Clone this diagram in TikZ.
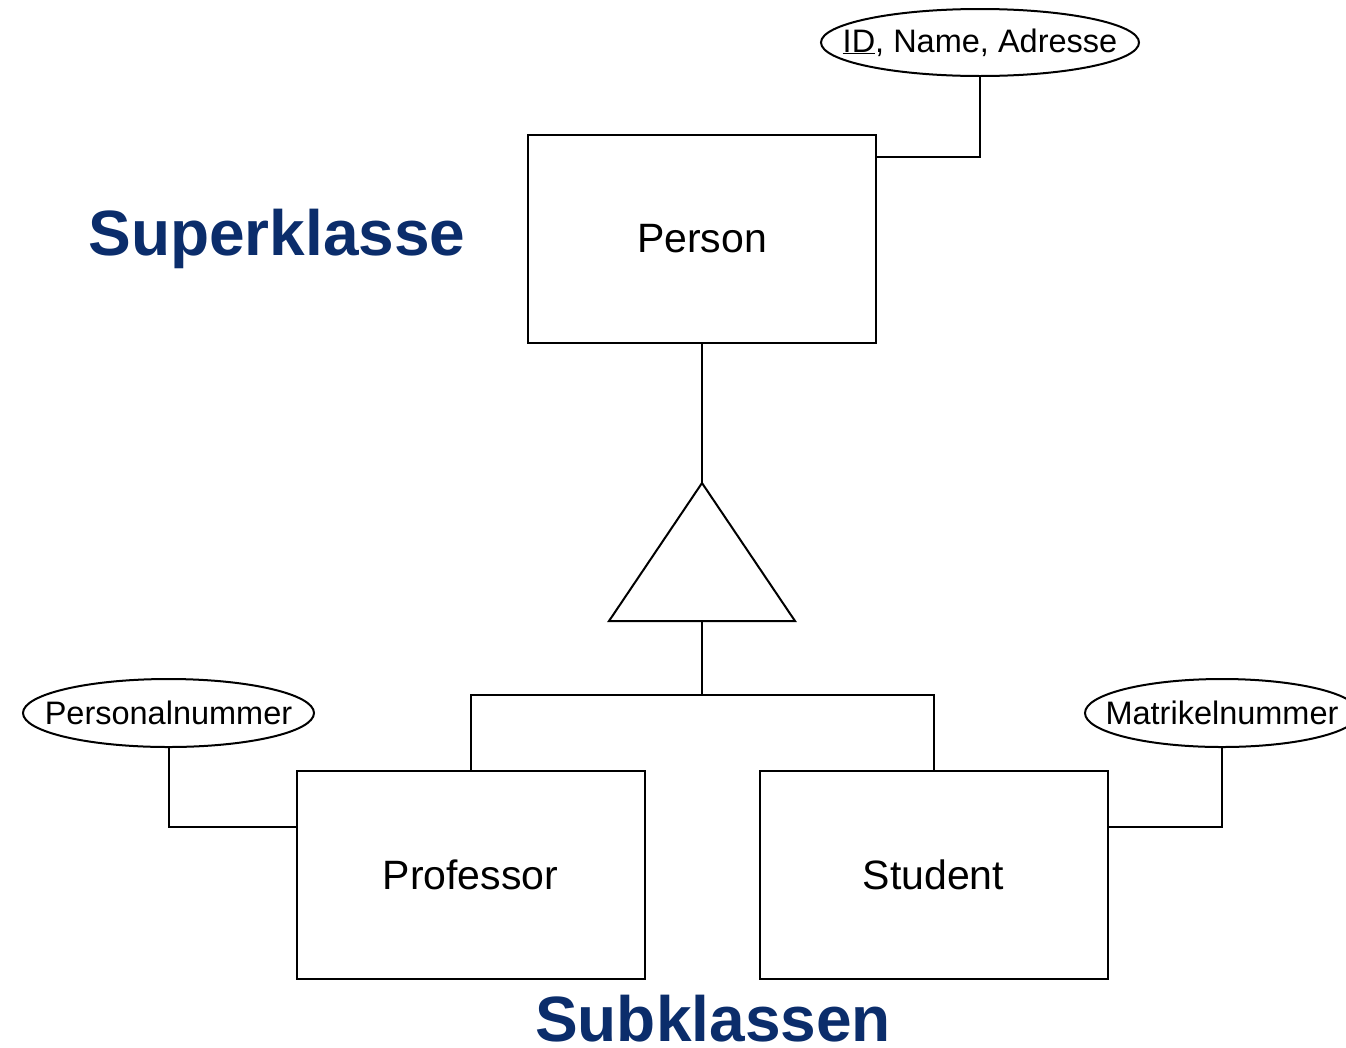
\documentclass[tikz,border=0pt]{standalone}
\usepackage{fontspec}
\setmainfont{Liberation Sans}
\usetikzlibrary{shapes.geometric}
\definecolor{headblue}{HTML}{0B2D6B}
\tikzset{
  entity/.style={draw, line width=2pt, minimum width=348pt, minimum height=208pt, inner sep=0pt,
    font=\fontsize{41}{48}\selectfont},
  attr/.style={draw, ellipse, line width=2pt, inner xsep=-60pt, inner ysep=-20pt,
    font=\fontsize{32.5}{38}\selectfont},
  link/.style={line width=2pt},
  heading/.style={anchor=base, text=headblue, font=\fontsize{64}{72}\selectfont\bfseries}
}
\begin{document}
\begin{tikzpicture}[x=1pt, y=-1pt]
  \useasboundingbox (0,0) rectangle (1346,1047);
  \clip (0,0) rectangle (1346,1047);

  % entities
  \node[entity] (person) at (702,239) {Person};
  \node[entity] (prof) at (470.5,874.5) {Professor};
  \node[entity] (stud) at (933.5,874.5) {Student};

  % attributes
  \node[attr, minimum width=318pt, minimum height=67pt] (pattr) at (980,42.5) {\underline{ID}, Name, Adresse};
  \node[attr, minimum width=291pt, minimum height=68pt] (profattr) at (168.5,713) {Personalnummer};
  \node[attr, minimum width=274pt, minimum height=68pt] (studattr) at (1222,713) {Matrikelnummer};

  % headings
  \node[heading] (super) at (277,255) {Superklasse};
  \node[heading] (sub) at (713,1041) {Subklassen};

  % generalisation triangle
  \coordinate (apex) at (702,483);
  \coordinate (bleft) at (609,621);
  \coordinate (bright) at (795,621);
  \coordinate (basemid) at (702,621);
  \coordinate (fork) at (702,695);
  \draw[link, line join=miter] (apex) -- (bright) -- (bleft) -- cycle;

  % connectors
  \draw[link] (person.south) -- (apex);
  \draw[link] (basemid) -- (fork);
  \draw[link] (prof.north) |- (fork) -| (stud.north);
  \draw[link] (pattr.south) |- ([yshift=-23pt]person.north east);
  \draw[link] (profattr.south) |- ([yshift=-57pt]prof.north west);
  \draw[link] (studattr.south) |- ([yshift=-57pt]stud.north east);
\end{tikzpicture}
\end{document}
